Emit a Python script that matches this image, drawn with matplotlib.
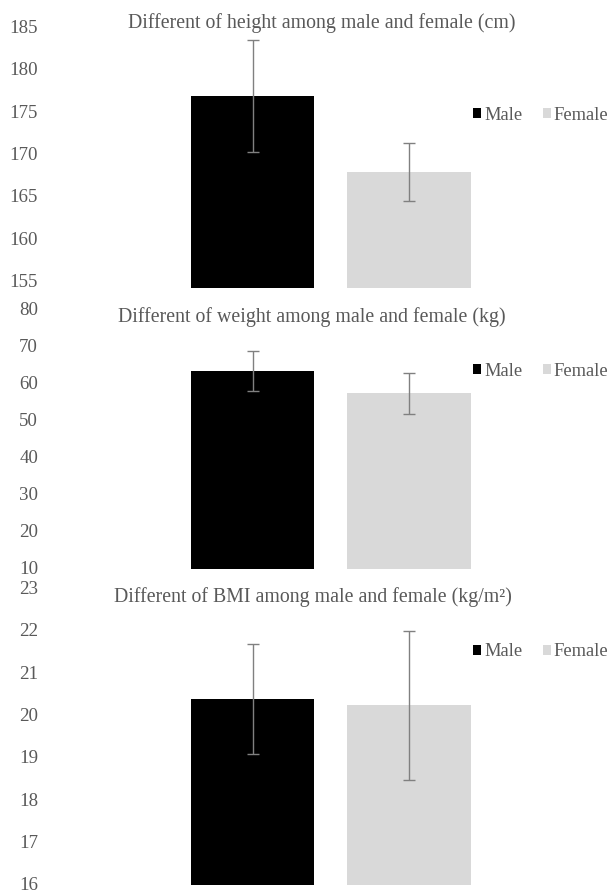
import matplotlib
matplotlib.use("Agg")
import matplotlib.pyplot as plt
from matplotlib.patches import Patch

# ---- data ----
groups = ["Male", "Female"]
height_mean = [176.8, 167.8]
height_err = [6.6, 3.45]
weight_mean = [63.2, 57.1]
weight_err = [5.4, 5.5]
bmi_mean = [20.36, 20.22]
bmi_err = [1.3, 1.76]

titles = [
    "Different of height among male and female (cm)",
    "Different of weight among male and female (kg)",
    "Different of BMI among male and female (kg/m\u00b2)",
]
height_ticks = [155, 160, 165, 170, 175, 180, 185]
weight_ticks = [10, 20, 30, 40, 50, 60, 70, 80]
bmi_ticks = [16, 17, 18, 19, 20, 21, 22, 23]

colors = ["#000000", "#d9d9d9"]
text_color = "#595959"
FONT = ["Liberation Serif", "DejaVu Serif"]
plt.rcParams["font.family"] = FONT

W, H = 609, 894
fig = plt.figure(figsize=(W / 100, H / 100), dpi=100)

AX_LEFT, AX_RIGHT = 45, 609
# bar centre pixels (used to map x)
cx0, cx1 = 252.5, 409.0


def make_panel(means, errs, ticks, title, p_top, p_bot, v_hi, py_hi, v_lo, py_lo,
               title_xy, leg_y):
    ax = fig.add_axes([AX_LEFT / W, 1 - p_bot / H, (AX_RIGHT - AX_LEFT) / W,
                       (p_bot - p_top) / H])
    # y mapping
    scale = (py_lo - py_hi) / (v_hi - v_lo)  # px per unit
    y_top = v_hi + (py_hi - p_top) / scale
    y_bot = v_lo - (p_bot - py_lo) / scale
    ax.set_ylim(y_bot, y_top)
    # x mapping
    sx = cx1 - cx0
    ax.set_xlim(-(cx0 - AX_LEFT) / sx, 1 + (AX_RIGHT - cx1) / sx)

    xs = list(range(len(means)))
    ax.bar(xs, [m - y_bot for m in means], bottom=y_bot, width=0.79,
           color=colors, zorder=2)
    ax.errorbar(xs, means, yerr=errs, fmt="none", ecolor="#808080",
                elinewidth=1.0, capsize=4, capthick=1.0, zorder=3)

    ax.set_yticks(ticks)
    ax.set_yticklabels([str(t) for t in ticks])
    ax.tick_params(axis="y", length=0, pad=5, labelsize=13.6, labelcolor=text_color)
    ax.set_xticks([])
    for s in ax.spines.values():
        s.set_visible(False)
    ax.patch.set_alpha(0)

    fig.text(title_xy[0] / W, 1 - title_xy[1] / H, title, ha="center",
             va="center", fontsize=14.3, color=text_color, family=FONT)

    handles = [Patch(facecolor=c, edgecolor="none") for c in colors]
    fig.legend(handles, groups, loc="center left",
               bbox_to_anchor=(473 / W, 1 - leg_y / H), ncol=2, frameon=False,
               prop={"family": FONT, "size": 13.3}, labelcolor=text_color,
               handlelength=0.45, handleheight=0.45, handletextpad=0.15,
               columnspacing=1.1, borderpad=0, borderaxespad=0)
    return ax


make_panel(height_mean, height_err, height_ticks, titles[0],
           10, 288, 185, 26.5, 155, 280.7, (322, 23), 115)
make_panel(weight_mean, weight_err, weight_ticks, titles[1],
           298, 569, 80, 308.3, 20, 530.7, (312, 317), 371)
make_panel(bmi_mean, bmi_err, bmi_ticks, titles[2],
           578, 885, 23, 587.5, 16, 884.0, (313, 597), 652)

fig.savefig("out.png", dpi=100, facecolor="white")
